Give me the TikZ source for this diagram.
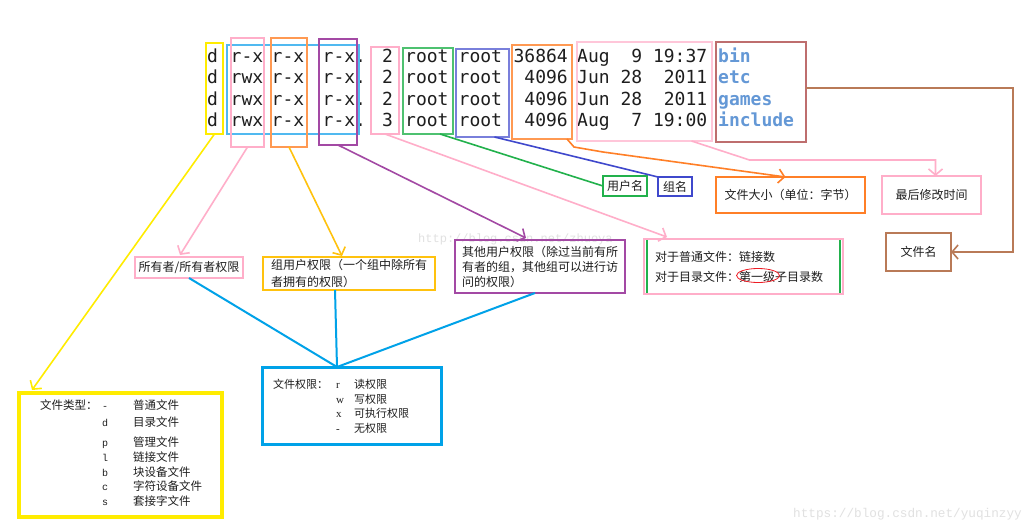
\documentclass[tikz,border=0pt]{standalone}
\usepackage{fontspec}
\setmainfont{Noto Sans CJK SC}
\newfontfamily\monofont{DejaVu Sans Mono}
\newfontfamily\lmono{Liberation Mono}
\newfontfamily\lserif{Liberation Serif}
\usetikzlibrary{arrows.meta,calc}
\definecolor{cYel}{RGB}{255,236,0}
\definecolor{cPink}{RGB}{255,174,201}
\definecolor{cOrg}{RGB}{255,127,39}
\definecolor{cGold}{RGB}{255,194,14}
\definecolor{cPur}{RGB}{163,73,164}
\definecolor{cGrn}{RGB}{34,177,76}
\definecolor{cInd}{RGB}{63,72,204}
\definecolor{cCya}{RGB}{0,162,232}
\definecolor{cLCya}{RGB}{80,185,240}
\definecolor{cBrn}{RGB}{185,122,87}
\definecolor{cRbrn}{RGB}{190,110,110}
\definecolor{cRed}{RGB}{237,28,36}
\definecolor{cTxtBlue}{RGB}{100,152,214}
\definecolor{cTxt}{RGB}{30,30,30}
\definecolor{cWm}{RGB}{225,225,225}
\begin{document}
\begin{tikzpicture}[x=1pt,y=-1pt,
  lst/.style={anchor=base west, inner sep=0pt, font=\monofont\fontsize{18}{20}\selectfont, text=cTxt},
  colbox/.style={draw, inner sep=0pt, outer sep=0pt, line width=1.2pt},
  lbl/.style={draw, inner sep=0pt, outer sep=0pt, line width=2.5pt, text=cTxt, align=left, font=\fontsize{12}{15}\selectfont},
  arr/.style={-{Straight Barb[length=6pt,width=14pt]}},
  conn/.style={line width=1.6pt},
  tbl/.style={anchor=north west, inner sep=0pt, text=cTxt}
]
\fill[white] (0,0) rectangle (1022,528);
\useasboundingbox (0,0) rectangle (1022,528);

% watermarks
\node[anchor=west, inner sep=0pt, text=cWm, font=\lmono\fontsize{12}{13}\selectfont] (wm1) at (418,239) {http://blog.csdn.net/zhuoya};
\node[anchor=west, inner sep=0pt, text=cWm, font=\lmono\fontsize{12.7}{14}\selectfont] (wm2) at (793,514) {https://blog.csdn.net/yuqinzyy};

% listing
\foreach \yy/\pa/\tl/\sz/\dt/\nm [count=\i] in {
  62/r-x/2/36864/Aug~~9~19:37/bin,
  83.6/rwx/2/4096/Jun~28~~2011/etc,
  105.2/rwx/2/4096/Jun~28~~2011/games,
  126.8/rwx/3/4096/Aug~~7~19:00/include}{
  \node[lst] (d\i) at (207,\yy) {d};
  \node[lst] (o\i) at (230.5,\yy) {\pa};
  \node[lst] (g\i) at (271.5,\yy) {r-x};
  \node[lst] (x\i) at (322.5,\yy) {r-x.};
  \node[lst] (k\i) at (382,\yy) {\tl};
  \node[lst] (u\i) at (405,\yy) {root};
  \node[lst] (h\i) at (458.5,\yy) {root};
  \node[lst,anchor=base east] (s\i) at (568,\yy) {\sz};
  \node[lst] (t\i) at (577,\yy) {\dt};
  \node[lst,text=cTxtBlue,font=\monofont\bfseries\fontsize{18}{20}\selectfont] (n\i) at (718,\yy) {\nm};
}

% column boxes
\node[colbox,draw=cYel,minimum width=17pt,minimum height=91pt] (dbox) at (214.5,88.5) {};
\node[colbox,draw=cLCya,minimum width=132pt,minimum height=89pt] (permbox) at (293,89.5) {};
\node[colbox,draw=cPink,minimum width=33pt,minimum height=109pt] (ownbox) at (247.5,92.5) {};
\node[colbox,draw=cOrg!80,minimum width=36pt,minimum height=109pt] (grpbox) at (289,92.5) {};
\node[colbox,draw=cPur,minimum width=38pt,minimum height=106pt] (othbox) at (338,92) {};
\node[colbox,draw=cPink,minimum width=28pt,minimum height=87pt] (lnkbox) at (385,90.5) {};
\node[colbox,draw=cGrn!80,minimum width=50pt,minimum height=86pt] (usrbox) at (428,91) {};
\node[colbox,draw=cInd!70,minimum width=53pt,minimum height=88pt] (gnmbox) at (482.5,93) {};
\node[colbox,draw=cOrg!80,minimum width=60pt,minimum height=94pt] (sizebox) at (542,92) {};
\node[colbox,draw=cPink!70,minimum width=135pt,minimum height=99pt] (datebox) at (644.5,91.5) {};
\node[colbox,draw=cRbrn,minimum width=90pt,minimum height=100pt] (namebox) at (761,92) {};

% labels
\node[lbl,draw=cPink,minimum width=108pt,minimum height=21pt] (ownlbl) at (189,267.5) {所有者/所有者权限};
\node[lbl,draw=cGold,minimum width=172pt,minimum height=33pt,font=\fontsize{12}{17}\selectfont] (grplbl) at (349,273.5) {组用户权限（一个组中除所有\\者拥有的权限）};
\node[lbl,draw=cPur,minimum width=170pt,minimum height=53pt] (othlbl) at (540,266.5) {其他用户权限（除过当前有所\\有者的组，其他组可以进行访\\问的权限）};
\node[lbl,draw=cGrn,line width=1.5pt,minimum width=193pt,minimum height=55pt] (lnkgrn) at (743.5,266.5) {};
\node[lbl,draw=cPink,line width=2pt,minimum width=199pt,minimum height=55pt,text width=177pt,inner xsep=11pt,font=\fontsize{12}{20}\selectfont] (lnklbl) at (743.5,266.5) {对于普通文件：链接数\\对于目录文件：第一级子目录数};
\draw[cRed,line width=0.8pt] ([xshift=14.5pt,yshift=-9pt]lnklbl.center) ellipse [x radius=21.5pt, y radius=7pt];
\node[lbl,draw=cGrn,minimum width=44pt,minimum height=20pt] (usrlbl) at (625,186) {用户名};
\node[lbl,draw=cInd,minimum width=34pt,minimum height=19pt] (gnmlbl) at (675,186.5) {组名};
\node[lbl,draw=cOrg,minimum width=149pt,minimum height=36pt] (sizelbl) at (790.5,195) {文件大小（单位：字节）};
\node[lbl,draw=cPink,line width=2pt,minimum width=99pt,minimum height=38pt] (timelbl) at (931.5,195) {最后修改时间};
\node[lbl,draw=cBrn,minimum width=65pt,minimum height=38pt] (fnlbl) at (918.5,252) {文件名};
\node[lbl,draw=cCya,line width=3pt,minimum width=179pt,minimum height=77pt] (permlbl) at (351.5,405.5) {};
\node[lbl,draw=cYel,line width=4pt,minimum width=203pt,minimum height=124pt] (typelbl) at (120.5,455) {};

% permission text
\node[tbl] (permtxt) at (273,378) {\fontsize{11}{14.7}\selectfont
\begin{tabular}{@{}p{63pt}@{}p{18pt}@{}l@{}}
文件权限： & {\lserif r} & 读权限\\
 & {\lserif w} & 写权限\\
 & {\lserif x} & 可执行权限\\
 & {\lserif -} & 无权限
\end{tabular}};

% file type text
\node[tbl] (typetxt) at (40,399) {\fontsize{11.5}{15}\selectfont
\begin{tabular}{@{}p{62pt}@{}p{31pt}@{}l@{}}
文件类型： & {\lmono\fontsize{10}{15}\selectfont -} & 普通文件\\[2pt]
 & {\lmono\fontsize{10}{15}\selectfont d} & 目录文件\\[5pt]
 & {\lmono\fontsize{10}{15}\selectfont p} & 管理文件\\
 & {\lmono\fontsize{10}{15}\selectfont l} & 链接文件\\
 & {\lmono\fontsize{10}{15}\selectfont b} & 块设备文件\\[-1pt]
 & {\lmono\fontsize{10}{15}\selectfont c} & 字符设备文件\\
 & {\lmono\fontsize{10}{15}\selectfont s} & 套接字文件
\end{tabular}};

% connectors
\draw[conn,arr,cYel] (dbox.south) -- ([xshift=13pt,yshift=3pt]typelbl.north west);
\draw[conn,arr,cPink] (ownbox.south) -- ([xshift=-9pt,yshift=2pt]ownlbl.north);
\draw[conn,arr,cGold] (grpbox.south) -- ([xshift=-7pt,yshift=1pt]grplbl.north);
\draw[conn,arr,cPur] (othbox.south) -- ([xshift=-14pt,yshift=2pt]othlbl.north);
\draw[conn,arr,cPink] (lnkbox.south) -- ([xshift=23pt,yshift=2pt]lnklbl.north west);
\draw[conn,cGrn] ([xshift=12pt]usrbox.south) -- (usrlbl.west);
\draw[conn,cInd] ([xshift=12pt]gnmbox.south) -- (gnmlbl.north west);
\draw[conn,arr,cOrg] ([xshift=25pt]sizebox.south) -- ++(7,8) -- ++(29,5) -- ([xshift=-5pt]sizelbl.north);
\draw[conn,arr,cPink] ([xshift=47pt]datebox.south) -- ++(58,19) -| ([xshift=4pt]timelbl.north);
\draw[conn,arr,cBrn] ([yshift=4pt]namebox.east) -- ++(207,0) |- (fnlbl.east);
\coordinate (conv) at ([xshift=-14.5pt]permlbl.north);
\draw[conn,line width=2pt,cCya] (ownlbl.south) -- (conv);
\draw[conn,line width=2pt,cCya] ([xshift=-14pt]grplbl.south) -- (conv);
\draw[conn,line width=2pt,cCya] ([xshift=-5pt]othlbl.south) -- (conv);
\end{tikzpicture}
\end{document}
